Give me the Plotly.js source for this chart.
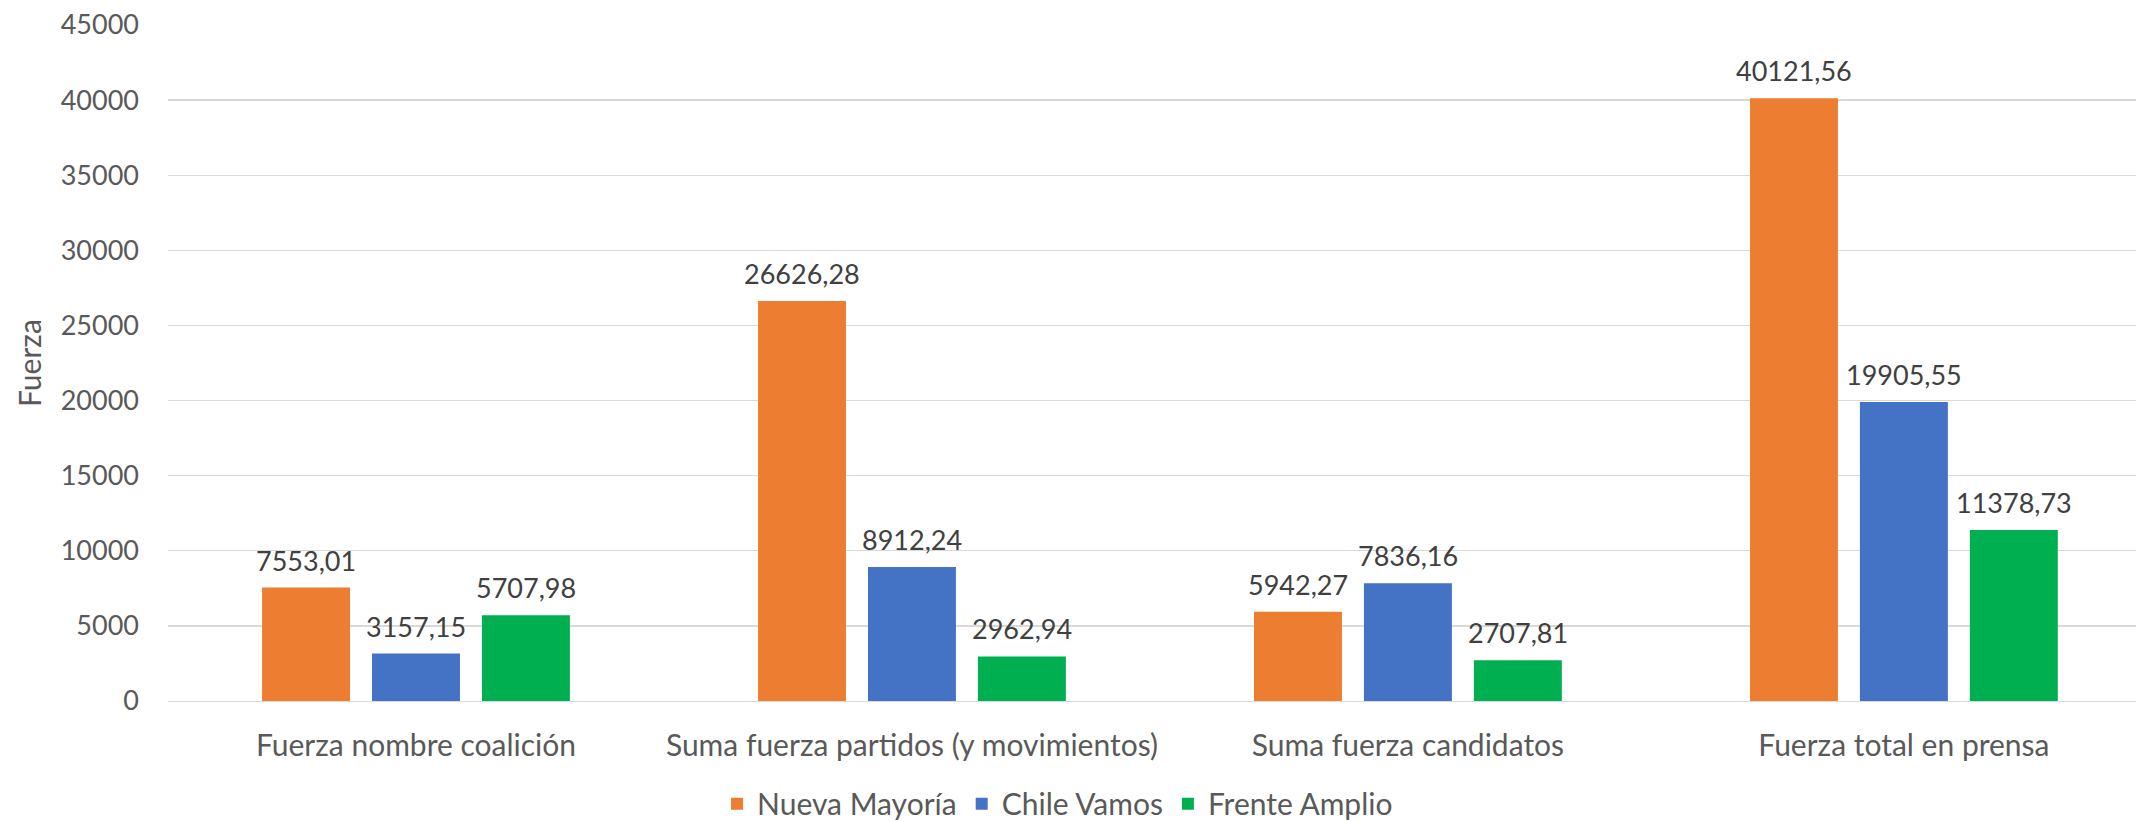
<!DOCTYPE html>
<html>
<head>
<meta charset="utf-8">
<script src="https://cdn.plot.ly/plotly-3.0.1.min.js"></script>
<style>html,body{margin:0;padding:0;background:#fff;}#chart{width:2136px;height:822px;}</style>
</head>
<body>
<div id="chart"></div>
<script>
const categories = ["Fuerza nombre coalición", "Suma fuerza partidos (y movimientos)", "Suma fuerza candidatos", "Fuerza total en prensa"];
const seriesNames = ["Nueva Mayoría", "Chile Vamos", "Frente Amplio"];
const nuevaMayoria = [7553.01, 26626.28, 5942.27, 40121.56];
const chileVamos = [3157.15, 8912.24, 7836.16, 19905.55];
const frenteAmplio = [5707.98, 2962.94, 2707.81, 11378.73];
const yTicks = [0, 5000, 10000, 15000, 20000, 25000, 30000, 35000, 40000, 45000];
const yAxisTitle = "Fuerza";
const colors = ["#ED7D31", "#4472C4", "#00B050"];

const FONT = "Lato, 'Open Sans', sans-serif";
const fmt = v => v.toFixed(2).replace('.', ',');

const W = 2136, H = 822;
const margin = {l: 168, r: 0, t: 25, b: 121};
const xRange = [-0.5, 3.468];
const bargap = 0.335;
const nSeries = 3;

const seriesValues = [nuevaMayoria, chileVamos, frenteAmplio];
const traces = seriesValues.map((vals, i) => ({
  type: 'bar',
  name: seriesNames[i],
  x: categories,
  y: vals,
  marker: {color: colors[i]},
  cliponaxis: false,
  hoverinfo: 'none'
}));

// Slot width in px per series within a group, derived from axis scale
const plotW = W - margin.l - margin.r;
const pxPerCat = plotW / (xRange[1] - xRange[0]);
const slotPx = pxPerCat * (1 - bargap) / nSeries;

const annotations = [];
seriesValues.forEach((vals, i) => {
  vals.forEach((v, j) => {
    annotations.push({
      x: categories[j], y: v, xref: 'x', yref: 'y',
      text: fmt(v), showarrow: false,
      xanchor: 'center', yanchor: 'bottom',
      xshift: (i - (nSeries - 1) / 2) * slotPx,
      yshift: 9,
      font: {family: FONT, size: 27, color: '#404040'}
    });
  });
});
// y-axis title
annotations.push({
  x: (29 - margin.l) / plotW, y: 0.5, xref: 'paper', yref: 'paper',
  text: yAxisTitle, showarrow: false, textangle: -90,
  xanchor: 'center', yanchor: 'middle',
  font: {family: FONT, size: 30, color: '#595959'}
});

const layout = {
  width: W,
  height: H,
  margin: {l: margin.l, r: margin.r, t: margin.t, b: margin.b, pad: 0, autoexpand: false},
  paper_bgcolor: '#ffffff',
  plot_bgcolor: '#ffffff',
  font: {family: FONT, size: 30, color: '#595959'},
  barmode: 'group',
  bargap: bargap,
  bargroupgap: 0.2,
  showlegend: true,
  legend: {
    orientation: 'h',
    x: 0.452, xanchor: 'center',
    y: -0.152, yanchor: 'middle',
    font: {family: FONT, size: 30, color: '#595959'},
    itemwidth: 30,
    traceorder: 'normal'
  },
  annotations: annotations,
  xaxis: {
    type: 'category',
    range: xRange,
    automargin: false,
    showgrid: false,
    showline: true,
    linecolor: '#D9D9D9',
    linewidth: 1.3,
    ticks: '',
    ticklabelstandoff: 18,
    tickfont: {family: FONT, size: 30, color: '#595959'},
    fixedrange: true
  },
  yaxis: {
    range: [0, 45000],
    automargin: false,
    tickvals: yTicks,
    ticktext: yTicks.map(String),
    showgrid: true,
    gridcolor: '#D9D9D9',
    gridwidth: 1.3,
    zeroline: false,
    showline: false,
    ticks: '',
    ticklabelstandoff: 28,
    tickfont: {family: FONT, size: 27, color: '#595959'},
    fixedrange: true
  }
};

Plotly.newPlot('chart', traces, layout, {displayModeBar: false, staticPlot: true});
</script>
</body>
</html>
